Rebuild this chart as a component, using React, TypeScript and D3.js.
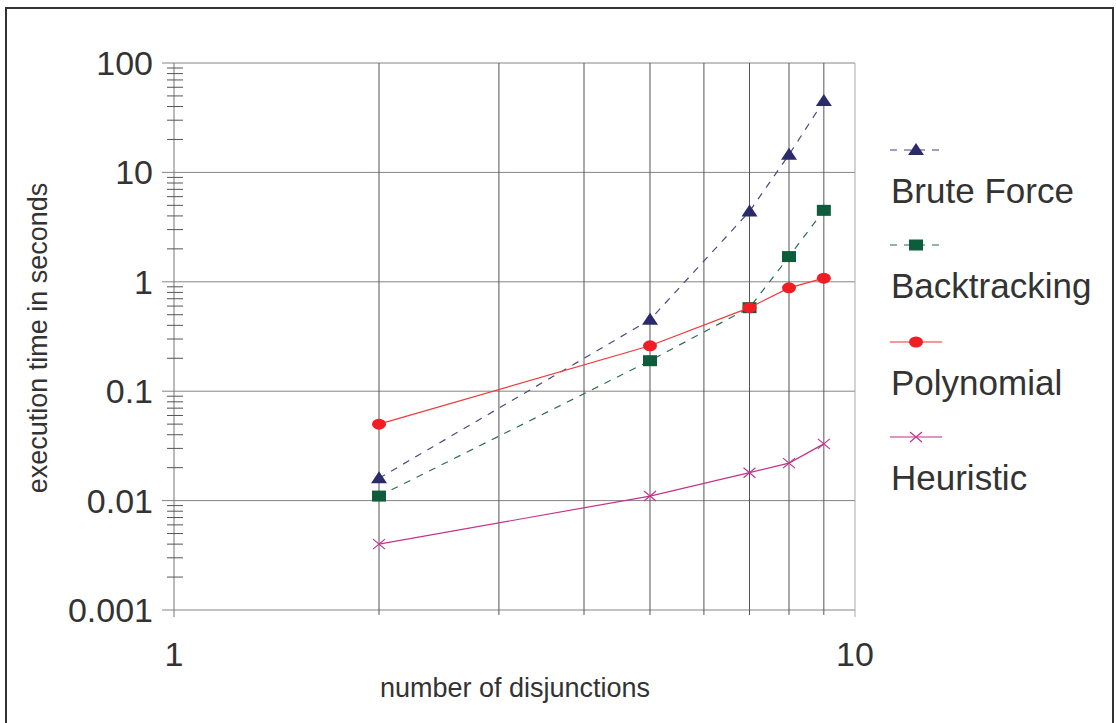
import React from 'react'
import * as d3 from 'd3'

const disjunctions = [2, 5, 7, 8, 9]
const bruteForce = [0.016, 0.45, 4.4, 14.5, 45]
const backtracking = [0.011, 0.19, 0.58, 1.7, 4.5]
const polynomial = [0.05, 0.26, 0.58, 0.88, 1.08]
const heuristic = [0.004, 0.011, 0.018, 0.022, 0.033]
const yTicks = [0.001, 0.01, 0.1, 1, 10, 100]
const yTickLabels = ['0.001', '0.01', '0.1', '1', '10', '100']
const xTicks = [1, 10]
const xGrid = [2, 3, 4, 5, 6, 7, 8, 9, 10]
const seriesNames = ['Brute Force', 'Backtracking', 'Polynomial', 'Heuristic']

const FONT = 'Liberation Sans, Arial, sans-serif'

function Marker ({ kind, x, y, color }: { kind: string, x: number, y: number, color: string }) {
  if (kind === 'triangle') {
    return <path d={`M${x},${y - 7}L${x + 8},${y + 5}L${x - 8},${y + 5}Z`} fill={color} />
  }
  if (kind === 'square') {
    return <rect x={x - 7} y={y - 5.5} width={14} height={11} fill={color} />
  }
  if (kind === 'circle') {
    return <ellipse cx={x} cy={y} rx={7} ry={5.5} fill={color} />
  }
  return (
    <path d={`M${x - 6},${y - 5}L${x + 6},${y + 5}M${x - 6},${y + 5}L${x + 6},${y - 5}`}
      stroke={color} strokeWidth={1.2} fill='none' />
  )
}

export default function App () {
  const width = 1116
  const height = 723
  const x = d3.scaleLog().domain([1, 10]).range([174, 855])
  const y = d3.scaleLog().domain([0.001, 100]).range([610, 63])

  const series = [
    { name: seriesNames[0], values: bruteForce, color: '#2b2b6b', line: '#4a4a80', dash: '7,7', marker: 'triangle' },
    { name: seriesNames[1], values: backtracking, color: '#0f5c3c', line: '#2e6e52', dash: '7,7', marker: 'square' },
    { name: seriesNames[2], values: polynomial, color: '#f01e24', line: '#f03a3a', dash: '', marker: 'circle' },
    { name: seriesNames[3], values: heuristic, color: '#c4338a', line: '#c4338a', dash: '', marker: 'x' }
  ]

  const line = d3.line<number>()
    .x((_, i) => x(disjunctions[i]))
    .y(d => y(d))

  const minorY: number[] = []
  for (let e = -3; e < 2; e++) {
    for (let m = 2; m <= 9; m++) minorY.push(m * Math.pow(10, e))
  }

  const legendY = [150, 245, 342, 437]

  return (
    <svg width={width} height={height} style={{ position: 'absolute', left: 0, top: 0 }}>
      <rect x={0} y={0} width={width} height={height} fill='#fff' />
      <rect x={6} y={8} width={1107} height={720} fill='none' stroke='#333' strokeWidth={2} />

      {/* horizontal grid */}
      {yTicks.map(t => (
        <line key={'h' + t} x1={162} x2={855} y1={y(t)} y2={y(t)} stroke='#8a8282' strokeWidth={1} />
      ))}
      {/* vertical grid */}
      {xGrid.map(t => (
        <line key={'v' + t} x1={x(t)} x2={x(t)} y1={63} y2={t === 10 ? 617 : 615}
          stroke={t === 10 ? '#aaa' : '#555'} strokeWidth={1} />
      ))}
      {/* y axis */}
      <line x1={174} x2={174} y1={63} y2={617} stroke='#7a7272' strokeWidth={1} />
      {minorY.map(t => (
        <line key={'m' + t} x1={167} x2={183} y1={y(t)} y2={y(t)} stroke='#555' strokeWidth={1} />
      ))}

      {yTicks.map((t, i) => (
        <text key={'yl' + t} x={153} y={y(t) + 12} textAnchor='end' fontFamily={FONT} fontSize={34} fill='#333'>
          {yTickLabels[i]}
        </text>
      ))}
      {xTicks.map(t => (
        <text key={'xl' + t} x={x(t)} y={666} textAnchor='middle' fontFamily={FONT} fontSize={34} fill='#333'>
          {t}
        </text>
      ))}

      <text x={515} y={697} textAnchor='middle' fontFamily={FONT} fontSize={27} fill='#333'>
        number of disjunctions
      </text>
      <text transform='translate(47,338) rotate(-90)' textAnchor='middle' fontFamily={FONT} fontSize={27} fill='#333'>
        execution time in seconds
      </text>

      {series.map(s => (
        <g key={s.name}>
          <path d={line(s.values) || ''} fill='none' stroke={s.line} strokeWidth={1.2} strokeDasharray={s.dash} />
          {s.values.map((v, i) => (
            <Marker key={i} kind={s.marker} x={x(disjunctions[i])} y={y(v)} color={s.color} />
          ))}
        </g>
      ))}

      {series.map((s, i) => (
        <g key={'lg' + s.name}>
          <line x1={890} x2={942} y1={legendY[i]} y2={legendY[i]} stroke={s.line} strokeOpacity={0.7}
            strokeWidth={1.5} strokeDasharray={s.dash} />
          <Marker kind={s.marker} x={916} y={legendY[i]} color={s.color} />
          <text x={891} y={legendY[i] + 53} fontFamily={FONT} fontSize={35} fill='#333'>{s.name}</text>
        </g>
      ))}
    </svg>
  )
}
